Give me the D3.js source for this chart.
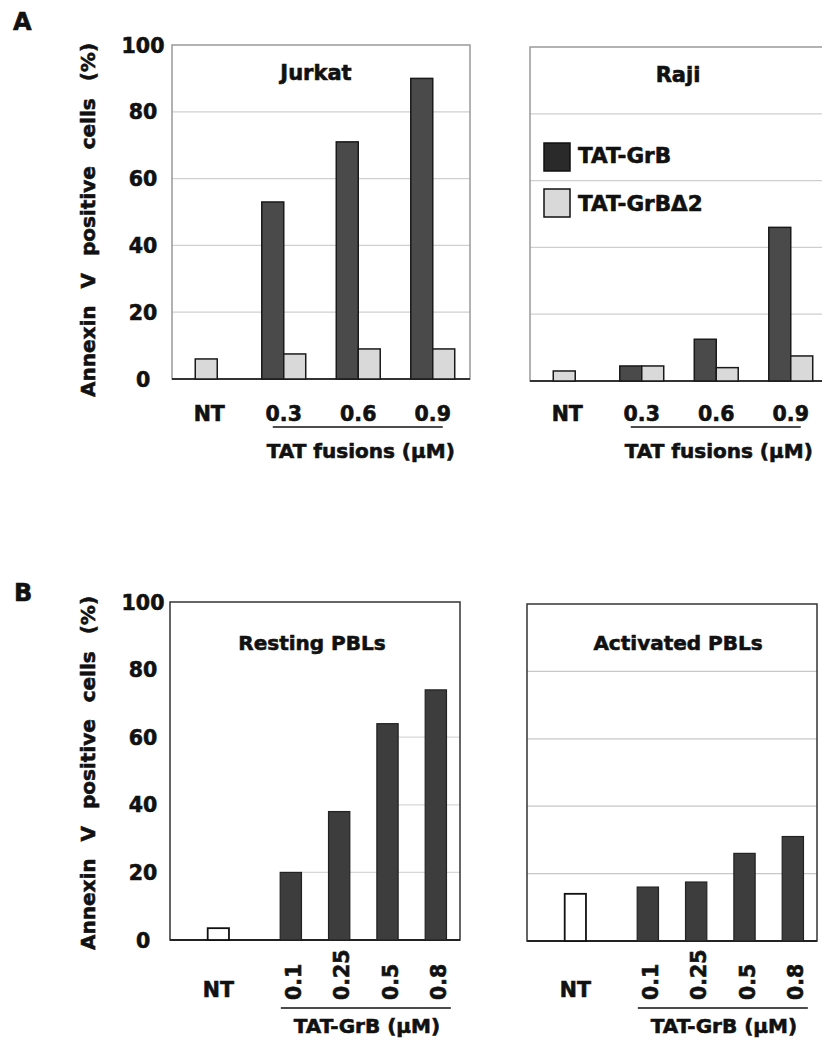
<!DOCTYPE html>
<html>
<head>
<meta charset="utf-8">
<script src="https://cdn.jsdelivr.net/npm/d3@7"></script>
<style>
  body { margin: 0; background: #fff; }
  text { font-family: "DejaVu Sans", Verdana, sans-serif; font-weight: bold; fill: #111;
         stroke: #111; stroke-width: 0.6px; }
</style>
</head>
<body>
<svg id="chart" width="822" height="1048"></svg>
<script>
// ---- data ----
const fusionDoses = ["NT", "0.3", "0.6", "0.9"];
const seriesNames = ["TAT-GrB", "TAT-GrB\u03942"];
const jurkatGrB = [null, 53, 71, 90];
const jurkatGrBd2 = [6, 7.5, 9, 9];
const rajiGrB = [null, 4.5, 12.5, 46];
const rajiGrBd2 = [3, 4.5, 4, 7.5];

const grbDoses = ["0.1", "0.25", "0.5", "0.8"];
const restingNT = 3.5;
const restingGrB = [20, 38, 64, 74];
const activatedNT = 14;
const activatedGrB = [16, 17.5, 26, 31];

const yTicks = [0, 20, 40, 60, 80, 100];
const yTitle = "Annexin V positive cells (%)";

const svg = d3.select("#chart");
svg.append("rect").attr("width", 822).attr("height", 1048).attr("fill", "#fff");

const DARK = "#4a4a4a", LIGHT = "#d9d9d9";

// y axis labels + title on the left panels
function yAxis(g, y, box) {
  const ax = g.append("g").call(d3.axisLeft(y).tickValues(yTicks).tickSize(0).tickPadding(0));
  ax.select(".domain").remove();
  ax.selectAll("text")
    .attr("x", 143 - box.left)
    .attr("text-anchor", "middle")
    .attr("dy", "0.35em")
    .style("font-size", "20.5px")
    .style("font-family", "DejaVu Sans")
    .style("font-weight", "bold")
    .attr("fill", "#111");
  g.append("text")
    .attr("transform", `translate(${95 - box.left},${box.titleY - box.top}) rotate(-90)`)
    .attr("text-anchor", "middle")
    .style("font-size", "20px")
    .style("word-spacing", "10px")
    .text(yTitle);
}

function frame(g, w, h, edge, base) {
  g.append("rect").attr("width", w).attr("height", h)
    .attr("fill", "none").attr("stroke", edge).attr("stroke-width", 1.5);
  g.append("line").attr("x1", 0).attr("x2", w).attr("y1", h).attr("y2", h)
    .attr("stroke", base).attr("stroke-width", 2);
}

// ---- panel A : grouped bars ----
function fusionPanel(box, title, grb, d2, withAxis, withLegend) {
  const w = box.right - box.left, h = box.bottom - box.top;
  const g = svg.append("g").attr("transform", `translate(${box.left},${box.top})`);
  const y = d3.scaleLinear().domain([0, 100]).range([h, 0]);
  const x = d3.scaleBand().domain(fusionDoses).range([0, w]);
  const bw = x.bandwidth() * 0.295;
  const rows = fusionDoses.map((d, i) => ({ dose: d, grb: grb[i], d2: d2[i] }));

  g.selectAll(".grid").data(yTicks.slice(1, -1)).join("line")
    .attr("x1", 0).attr("x2", w).attr("y1", d => y(d)).attr("y2", d => y(d))
    .attr("stroke", "#cfcfcf").attr("stroke-width", 1.2);

  frame(g, w, h, "#999", "#333");

  const c = d => x(d.dose) + x.bandwidth() / 2;
  g.selectAll(".dark").data(rows.filter(d => d.grb != null)).join("rect")
    .attr("x", d => c(d) - bw).attr("width", bw)
    .attr("y", d => y(d.grb)).attr("height", d => h - y(d.grb))
    .attr("fill", DARK).attr("stroke", "#1a1a1a").attr("stroke-width", 1.5);
  g.selectAll(".light").data(rows).join("rect")
    .attr("x", d => d.grb == null ? c(d) - bw / 2 - 3 : c(d)).attr("width", bw)
    .attr("y", d => y(d.d2)).attr("height", d => h - y(d.d2))
    .attr("fill", LIGHT).attr("stroke", "#1a1a1a").attr("stroke-width", 1.5);

  g.append("text").attr("x", w / 2 + box.titleDx).attr("y", box.titleBase - box.top)
    .attr("text-anchor", "middle").style("font-size", "21px").text(title);

  // category labels
  g.selectAll(".cat").data(fusionDoses).join("text")
    .attr("x", d => x(d) + x.bandwidth() / 2).attr("y", 421 - box.top)
    .attr("text-anchor", "middle").style("font-size", "20.5px").text(d => d);
  const u0 = x(fusionDoses[1]) + x.bandwidth() / 2 - 11;
  const u1 = x(fusionDoses[3]) + x.bandwidth() / 2 + 10;
  g.append("line").attr("x1", u0).attr("x2", u1).attr("y1", 427 - box.top).attr("y2", 427 - box.top)
    .attr("stroke", "#111").attr("stroke-width", 1.5);
  g.append("text").attr("x", (u0 + u1) / 2 + 3).attr("y", 458 - box.top)
    .attr("text-anchor", "middle").style("font-size", "20px").text("TAT fusions (\u03bcM)");

  if (withAxis) yAxis(g, y, box);

  if (withLegend) {
    const lg = g.append("g").attr("transform", `translate(${544 - box.left},${143 - box.top})`);
    lg.selectAll("rect").data(seriesNames).join("rect")
      .attr("x", 0).attr("y", (d, i) => i * 46).attr("width", 26).attr("height", 28)
      .attr("fill", (d, i) => i ? LIGHT : "#2a2a2a").attr("stroke", "#111").attr("stroke-width", 1.5);
    lg.selectAll("text").data(seriesNames).join("text")
      .attr("x", 34).attr("y", (d, i) => 20 + i * 48)
      .style("font-size", "21.5px").text(d => d);
  }
}

// ---- panel B : NT + dose series ----
function grbPanel(box, title, nt, vals, withAxis, partialGrid) {
  const w = box.right - box.left, h = box.bottom - box.top;
  const g = svg.append("g").attr("transform", `translate(${box.left},${box.top})`);
  const y = d3.scaleLinear().domain([0, 100]).range([h, 0]);
  const xNT = d3.scaleBand().domain(["NT"]).range([0, w / 3]);
  const x = d3.scaleBand().domain(grbDoses).range([w / 3, w]);
  const bw = x.bandwidth() * 0.44;
  const c = d => x(d) + x.bandwidth() / 2;

  yTicks.slice(1, -1).forEach(t => {
    let start = 0;
    if (partialGrid) {
      const i = vals.findIndex(v => v >= t);
      if (i < 0) return;
      start = c(grbDoses[i]) + bw / 2;
    }
    g.append("line").attr("x1", start).attr("x2", w).attr("y1", y(t)).attr("y2", y(t))
      .attr("stroke", partialGrid ? "#d8d8d8" : "#c8c8c8").attr("stroke-width", 1.2);
  });

  frame(g, w, h, "#333", "#222");

  g.append("rect")
    .attr("x", xNT("NT") + xNT.bandwidth() / 2 - bw / 2).attr("width", bw)
    .attr("y", y(nt)).attr("height", h - y(nt))
    .attr("fill", "#fff").attr("stroke", "#111").attr("stroke-width", 1.8);
  g.selectAll(".bar").data(vals).join("rect")
    .attr("x", (d, i) => c(grbDoses[i]) - bw / 2).attr("width", bw)
    .attr("y", d => y(d)).attr("height", d => h - y(d))
    .attr("fill", "#3d3d3d").attr("stroke", "#222").attr("stroke-width", 1.2);

  g.append("text").attr("x", w / 2 + box.titleDx).attr("y", 650 - box.top)
    .attr("text-anchor", "middle").style("font-size", "20px").text(title);

  g.append("text").attr("x", xNT("NT") + xNT.bandwidth() / 2).attr("y", 997 - box.top)
    .attr("text-anchor", "middle").style("font-size", "20.5px").text("NT");
  g.selectAll(".dose").data(grbDoses).join("text")
    .attr("transform", d => `translate(${c(d) + 3},${1000 - box.top}) rotate(-90)`)
    .attr("dy", "0.35em").style("font-size", "20.5px").text(d => d);
  const u0 = c(grbDoses[0]) - 10, u1 = c(grbDoses[3]) + 15;
  g.append("line").attr("x1", u0).attr("x2", u1).attr("y1", 1008 - box.top).attr("y2", 1008 - box.top)
    .attr("stroke", "#111").attr("stroke-width", 1.5);
  g.append("text").attr("x", (u0 + u1) / 2 + 1).attr("y", 1033 - box.top)
    .attr("text-anchor", "middle").style("font-size", "20px").text("TAT-GrB (\u03bcM)");

  if (withAxis) yAxis(g, y, box);
}

fusionPanel({ left: 172, top: 45, right: 470, bottom: 379, titleDx: -5, titleBase: 80, titleY: 220 },
  "Jurkat", jurkatGrB, jurkatGrBd2, true, false);
fusionPanel({ left: 530, top: 47, right: 828, bottom: 381, titleDx: -1, titleBase: 82 },
  "Raji", rajiGrB, rajiGrBd2, false, true);
grbPanel({ left: 170, top: 602, right: 460, bottom: 940, titleDx: -3, titleY: 773 },
  "Resting PBLs", restingNT, restingGrB, true, true);
grbPanel({ left: 527, top: 604, right: 817, bottom: 941, titleDx: 6 },
  "Activated PBLs", activatedNT, activatedGrB, false, false);

svg.append("text").attr("x", 13).attr("y", 30).style("font-size", "24px").text("A");
svg.append("text").attr("x", 14).attr("y", 601).style("font-size", "24px").text("B");
</script>
</body>
</html>
